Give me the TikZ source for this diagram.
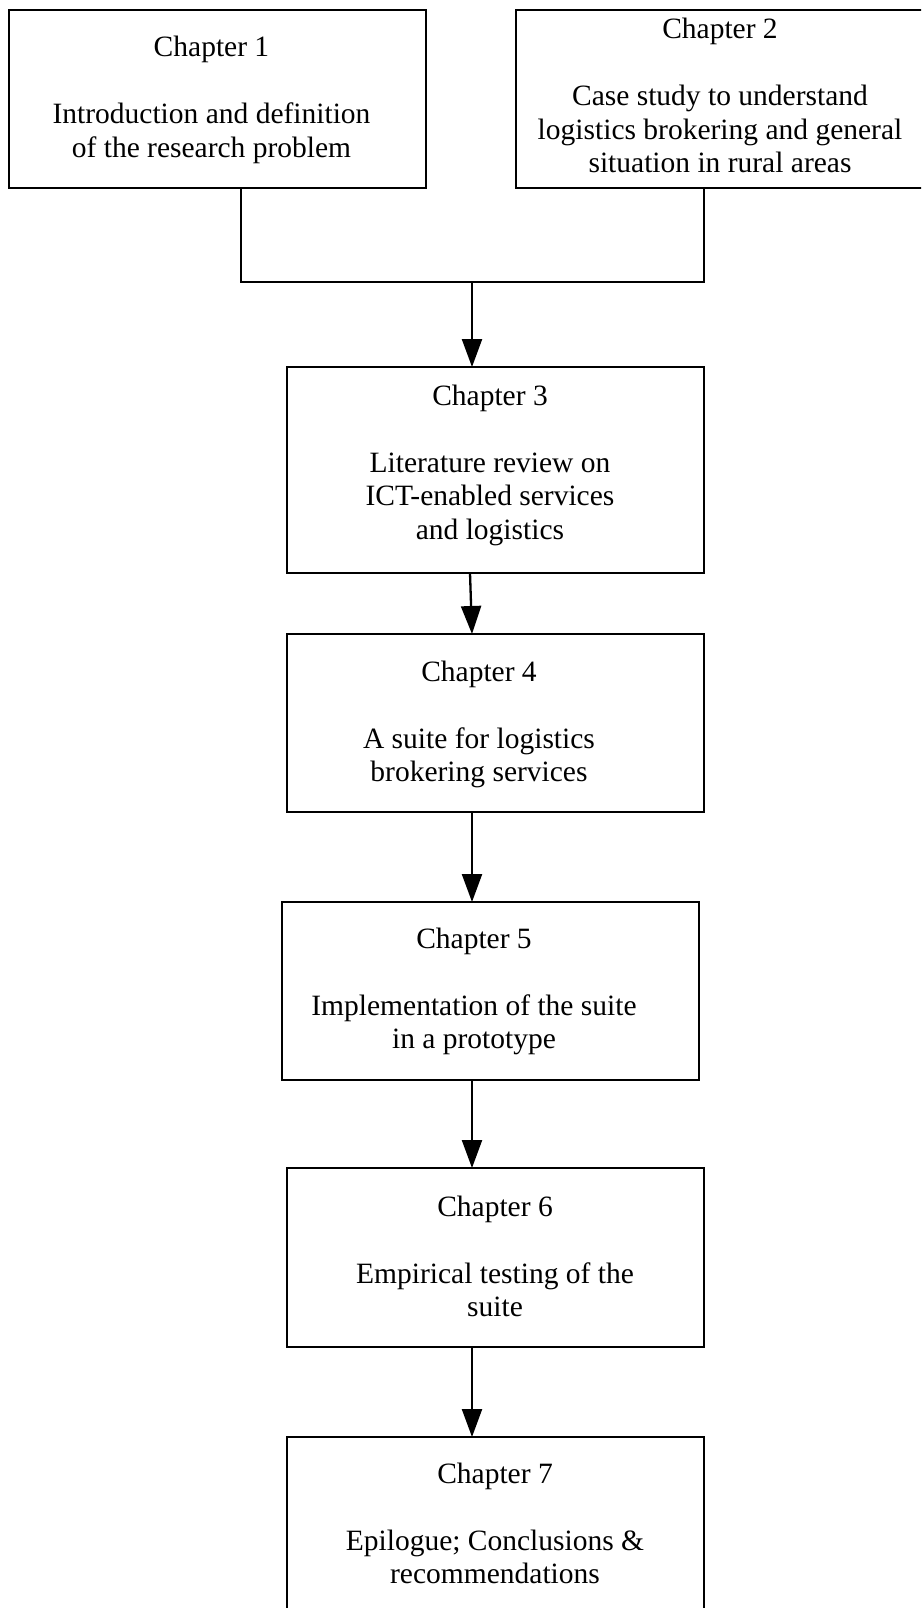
\documentclass[tikz,border=0pt]{standalone}
\usepackage{fontspec}
\setmainfont{Liberation Serif}
\usetikzlibrary{arrows.meta}

\newcommand{\boxtext}[1]{\begin{tabular}[t]{@{}c@{}}#1\end{tabular}}

\begin{document}
\begin{tikzpicture}[x=1pt, y=-1pt,
  box/.style={draw=black, line width=2.3pt, rectangle, inner sep=0pt, outer sep=0pt},
  label/.style={anchor=base, inner sep=0pt,
    font=\fontsize{29.5}{33.5}\selectfont},
  link/.style={draw=black, line width=2.3pt},
  arrow/.style={link, -{Triangle[length=28pt, width=20pt]}}]

  \useasboundingbox (0,0) rectangle (921,1608);
  \clip (0,0) rectangle (921,1608);

  % chapter boxes
  \node[box, minimum width=417pt, minimum height=178pt] (c1) at (217.5,99) {};
  \node[box, minimum width=414pt, minimum height=178pt] (c2) at (723,99) {};
  \node[box, minimum width=417pt, minimum height=206pt] (c3) at (495.5,470) {};
  \node[box, minimum width=417pt, minimum height=178pt] (c4) at (495.5,723) {};
  \node[box, minimum width=417pt, minimum height=178pt] (c5) at (490.5,991) {};
  \node[box, minimum width=417pt, minimum height=179pt] (c6) at (495.5,1257.5) {};
  \node[box, minimum width=417pt, minimum height=190pt] (c7) at (495.5,1532) {};

  % box texts (anchored on the baseline of the first line)
  \node[label] (t1) at (211.5,57) {\boxtext{Chapter 1\\[33.5pt]Introduction and definition\\of the research problem}};
  \node[label] (t2) at (720,39) {\boxtext{Chapter 2\\[33.5pt]Case study to understand\\logistics brokering and general\\situation in rural areas}};
  \node[label] (t3) at (490,405) {\boxtext{Chapter 3\\[33.5pt]Literature review on\\ICT-enabled services\\and logistics}};
  \node[label] (t4) at (479,681) {\boxtext{Chapter 4\\[33.5pt]A suite for logistics\\brokering services}};
  \node[label] (t5) at (474,948) {\boxtext{Chapter 5\\[33.5pt]Implementation of the suite\\in a prototype}};
  \node[label] (t6) at (495,1216) {\boxtext{Chapter 6\\[33.5pt]Empirical testing of the\\suite}};
  \node[label] (t7) at (495,1483) {\boxtext{Chapter 7\\[33.5pt]Epilogue; Conclusions \&\\recommendations}};

  % junction of the first two chapters
  \coordinate (j1) at (241,282);
  \coordinate (j2) at (704,282);
  \coordinate (j3) at (472,282);
  \coordinate (ax) at (472,0);

  \draw[link] (c1.south -| j1) -- (j1) -- (j2) -- (c2.south -| j2);
  \draw[arrow] (j3) -- (c3.north -| j3);
  \draw[arrow] ([xshift=-25.5pt]c3.south) -- (c4.north -| ax);
  \draw[arrow] (c4.south -| ax) -- (c5.north -| ax);
  \draw[arrow] (c5.south -| ax) -- (c6.north -| ax);
  \draw[arrow] (c6.south -| ax) -- (c7.north -| ax);
\end{tikzpicture}
\end{document}
